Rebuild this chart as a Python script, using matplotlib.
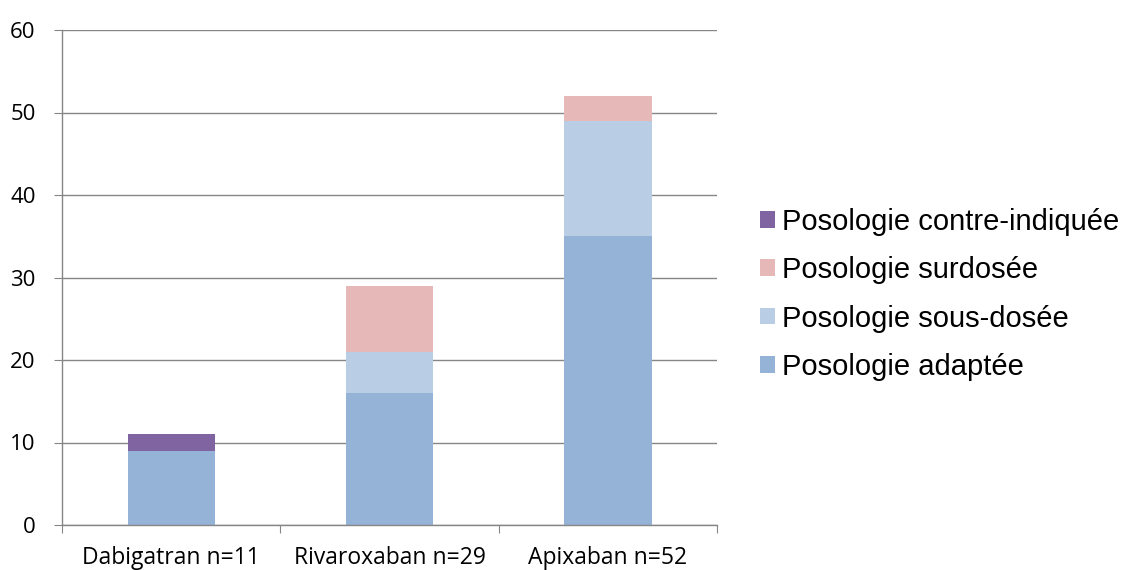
import matplotlib.pyplot as plt
import numpy as np

categories = ["Dabigatran n=11", "Rivaroxaban n=29", "Apixaban n=52"]
adaptee = [9, 16, 35]
sous_dosee = [0, 5, 14]
surdosee = [0, 8, 3]
contre_indiquee = [2, 0, 0]

series = [
    ("Posologie adaptée", adaptee, "#95B3D7"),
    ("Posologie sous-dosée", sous_dosee, "#B9CDE5"),
    ("Posologie surdosée", surdosee, "#E6B9B8"),
    ("Posologie contre-indiquée", contre_indiquee, "#8064A2"),
]

fig = plt.figure(figsize=(11.24, 5.70), dpi=100)
ax = fig.add_axes([62 / 1124, 45 / 570, 655 / 1124, 495 / 570])

x = np.arange(len(categories))
bottom = np.zeros(len(categories))
handles = []
for label, vals, color in series:
    h = ax.bar(x, vals, bottom=bottom, width=0.4, color=color, label=label, zorder=2)
    handles.append(h)
    bottom += np.array(vals)

grid_color = "#868686"
ax.set_xlim(-0.5, 2.5)
ax.set_ylim(0, 60)
ax.set_yticks(range(0, 61, 10))
ax.yaxis.grid(True, color=grid_color, linewidth=1, zorder=0)
ax.set_axisbelow(True)

for s in ["top", "right"]:
    ax.spines[s].set_visible(False)
for s in ["left", "bottom"]:
    ax.spines[s].set_color(grid_color)
    ax.spines[s].set_linewidth(1)

# category labels centred, ticks at boundaries
ax.set_xticks([-0.5, 0.5, 1.5, 2.5])
ax.set_xticklabels([])
ax.set_xticks(x, minor=True)
ax.set_xticklabels(categories, minor=True, fontsize=16.5, family="Open Sans")
ax.tick_params(axis="x", which="minor", length=0, pad=15)
ax.tick_params(axis="x", which="major", length=5.5, color=grid_color, direction="out")
ax.tick_params(axis="y", length=6, color=grid_color, labelsize=16, pad=13)
for t in ax.get_yticklabels():
    t.set_family("Open Sans")

ax.legend(handles[::-1], [h.get_label() for h in handles[::-1]],
          loc="center left", bbox_to_anchor=(1.048, 0.466), frameon=False,
          prop={"family": "Liberation Sans", "size": 21},
          handlelength=0.5, handleheight=0.5, handletextpad=0.25, labelspacing=0.7,
          borderaxespad=0)

plt.savefig("out.png", dpi=100)
